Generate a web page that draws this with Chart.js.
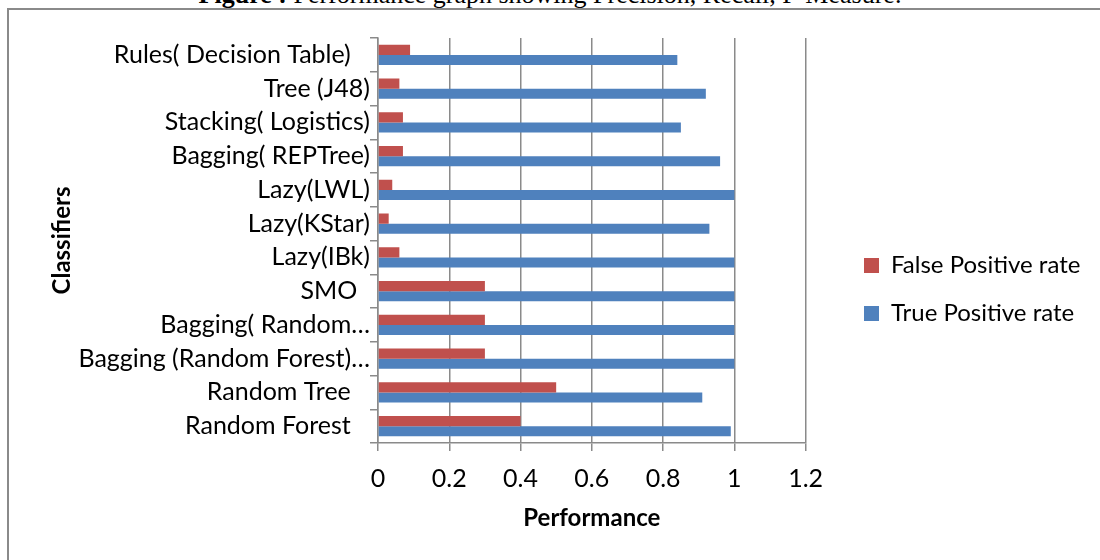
<!DOCTYPE html>
<html>
<head>
<meta charset="utf-8">
<title>Performance graph</title>
<script src="https://cdn.jsdelivr.net/npm/chart.js@4.4.1/dist/chart.umd.min.js"></script>
<style>
  html, body { margin: 0; padding: 0; background: #fff; }
  #wrap { position: relative; width: 1100px; height: 560px; overflow: hidden; }
  #caption {
    position: absolute; left: 0; top: -20px; width: 1100px;
    text-align: center; white-space: nowrap;
    font-family: "Liberation Serif", serif; font-size: 26px; color: #000;
  }
  #frame {
    position: absolute; left: 7px; top: 8px; width: 1200px; height: 700px;
    border-left: 2px solid #8a8a8a; border-top: 2px solid #8a8a8a;
  }
  #perfChart { position: absolute; left: 0; top: 0; }
</style>
</head>
<body>
<div id="wrap">
  <div id="caption"><b>Figure :</b> Performance graph showing Precision, Recall, F-Measure.</div>
  <div id="frame"></div>
  <canvas id="perfChart" width="1100" height="560"></canvas>
</div>
<script>
// classifiers listed top to bottom as they appear in the chart
const classifiers = [
    'Rules( Decision Table)   ',
    'Tree (J48)',
    'Stacking( Logistics)',
    'Bagging( REPTree)',
    'Lazy(LWL)',
    'Lazy(KStar)',
    'Lazy(IBk)',
    'SMO  ',
    'Bagging( Random…',
    'Bagging (Random Forest)…',
    'Random Tree   ',
    'Random Forest   '
];
const falsePositiveRate = [0.09, 0.06, 0.07, 0.07, 0.04, 0.03, 0.06, 0.3, 0.3, 0.3, 0.5, 0.4];
const truePositiveRate  = [0.84, 0.92, 0.85, 0.96, 1.0, 0.93, 1.0, 1.0, 1.0, 1.0, 0.91, 0.99];

const gridGrey = '#8a8a8a';
const labelFont = { family: 'Lato', size: 25 };
const legendFont = { family: 'Lato', size: 24 };
const titleFont = { family: 'Lato', size: 24, weight: 'bold' };

// put the legend where Excel had it (right of the plot, a bit below the middle)
const legendPlace = {
    id: 'legendPlace',
    afterLayout(chart) {
        const lg = chart.legend;
        const pad = lg.options.labels.padding;
        const dx = 864 - pad - lg.left;
        const firstY = (lg.top + pad + lg.bottom - lg.columnSizes[0].height) / 2;
        const dy = 253.5 - firstY;
        lg.left += dx; lg.right += dx;
        lg.top += dy; lg.bottom += dy;
    }
};

const ctx = document.getElementById('perfChart').getContext('2d');
const perfChart = new Chart(ctx, {
    type: 'bar',
    data: {
        labels: classifiers,
        datasets: [
            {
                label: 'False Positive rate',
                data: falsePositiveRate,
                backgroundColor: '#C0504D'
            },
            {
                label: 'True Positive rate',
                data: truePositiveRate,
                backgroundColor: '#4F81BD'
            }
        ]
    },
    options: {
        indexAxis: 'y',
        responsive: false,
        animation: false,
        devicePixelRatio: 1,
        categoryPercentage: 0.6,
        barPercentage: 1.0,
        layout: {
            padding: { left: 44, top: 38, right: 44, bottom: 23 }
        },
        scales: {
            x: {
                min: 0,
                max: 1.2,
                ticks: {
                    stepSize: 0.2,
                    color: '#000',
                    font: labelFont,
                    padding: 13,
                    callback: (value) => String(Number(value.toFixed(1)))
                },
                grid: { color: gridGrey, lineWidth: 1.5, tickLength: 8 },
                border: { color: gridGrey, width: 1.5 },
                title: { display: true, text: 'Performance', color: '#000', font: titleFont },
                afterFit: (scale) => { scale.height = 94; }
            },
            y: {
                ticks: { color: '#000', font: labelFont, padding: 0, autoSkip: false },
                grid: { drawOnChartArea: false, color: gridGrey, lineWidth: 1.5, tickLength: 8 },
                border: { color: gridGrey, width: 1.5 },
                title: { display: true, text: 'Classifiers', color: '#000', font: titleFont },
                afterFit: (scale) => { scale.width = 334; }
            }
        },
        plugins: {
            legend: {
                position: 'right',
                labels: {
                    color: '#000',
                    font: legendFont,
                    boxWidth: 15,
                    boxHeight: 15,
                    padding: 24
                }
            },
            tooltip: { enabled: false }
        }
    },
    plugins: [legendPlace]
});
</script>
</body>
</html>
